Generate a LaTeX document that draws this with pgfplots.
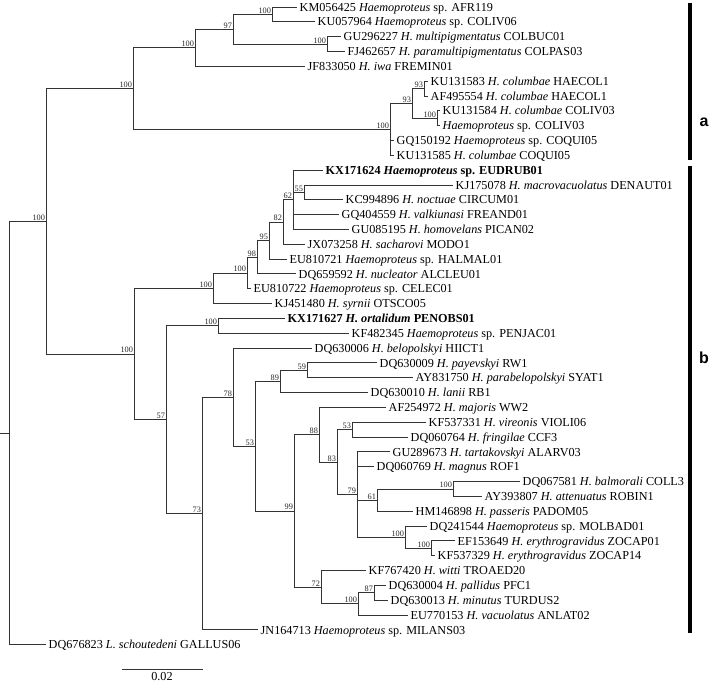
\documentclass[border=0pt]{standalone}
\usepackage{pgfplots}
\pgfplotsset{compat=1.18}
\usepackage{fontspec}
\setmainfont{Liberation Serif}
\newfontfamily\sansb{Liberation Sans}
\tikzset{
  br/.style={draw=black!80,line width=1pt,no markers},
  lf/.style={anchor=base west,font=\fontsize{12.2}{13}\selectfont,inner sep=0pt,xshift=2.5pt,yshift=-4.1pt},
  bs/.style={anchor=south east,font=\fontsize{8.3}{9}\selectfont,inner sep=0.8pt,text=black!85},
}
\begin{document}
\begin{tikzpicture}
\begin{axis}[width=709pt,height=683pt,scale only axis,xmin=0,xmax=709,ymin=0,ymax=683,
  y dir=reverse,hide axis,clip=false]
% ---- clade a ----
\addplot[br] coordinates {(297,7.0) (272,7.0) (272,21.8) (315,21.8)};
\addplot[br] coordinates {(341,36.7) (327,36.7) (327,51.5) (345,51.5)};
\addplot[br] coordinates {(272,14.4) (233,14.4) (233,44.1) (327,44.1)};
\addplot[br] coordinates {(233,29.25) (195,29.25) (195,66.3) (305,66.3)};
\addplot[br] coordinates {(428,81.2) (424,81.2) (424,96.0) (428,96.0)};
\addplot[br] coordinates {(440,110.8) (437,110.8) (437,125.6) (440,125.6)};
\addplot[br] coordinates {(424,88.6) (412,88.6) (412,118.2) (437,118.2)};
\addplot[br] coordinates {(412,103.4) (390,103.4) (390,155.3) (394,155.3)};
\addplot[br] coordinates {(390,140.5) (394,140.5)};
\addplot[br] coordinates {(195,47.8) (133,47.8) (133,129.35) (390,129.35)};
% ---- clade b ----
\addplot[br] coordinates {(453,185.0) (304,185.0) (304,199.8) (343,199.8)};
\addplot[br] coordinates {(323,170.1) (293,170.1) (293,229.5) (349,229.5)};
\addplot[br] coordinates {(293,192.4) (304,192.4)};
\addplot[br] coordinates {(293,214.6) (339,214.6)};
\addplot[br] coordinates {(293,199.8) (283,199.8) (283,244.3) (305,244.3)};
\addplot[br] coordinates {(283,222.05) (269,222.05) (269,259.1) (287,259.1)};
\addplot[br] coordinates {(269,240.6) (257,240.6) (257,273.9) (296,273.9)};
\addplot[br] coordinates {(257,257.25) (247,257.25) (247,288.8) (251,288.8)};
\addplot[br] coordinates {(247,273.0) (213,273.0) (213,303.6) (272,303.6)};
\addplot[br] coordinates {(285,318.4) (218,318.4) (218,333.3) (349,333.3)};
\addplot[br] coordinates {(377,362.9) (307,362.9) (307,377.8) (413,377.8)};
\addplot[br] coordinates {(307,370.35) (280,370.35) (280,392.6) (368,392.6)};
\addplot[br] coordinates {(426,422.2) (352,422.2) (352,437.1) (408,437.1)};
\addplot[br] coordinates {(520,481.6) (453,481.6) (453,496.4) (482,496.4)};
\addplot[br] coordinates {(453,489.0) (377,489.0) (377,511.2) (413,511.2)};
\addplot[br] coordinates {(455,540.9) (431,540.9) (431,555.7) (435,555.7)};
\addplot[br] coordinates {(427,526.1) (405,526.1) (405,548.3) (431,548.3)};
\addplot[br] coordinates {(390,451.9) (357,451.9) (357,537.2) (405,537.2)};
\addplot[br] coordinates {(357,466.7) (374,466.7)};
\addplot[br] coordinates {(357,500.1) (377,500.1)};
\addplot[br] coordinates {(352,429.65) (337,429.65) (337,494.55) (357,494.55)};
\addplot[br] coordinates {(386,407.4) (319,407.4) (319,462.1) (337,462.1)};
\addplot[br] coordinates {(386,585.4) (374,585.4) (374,600.2) (388,600.2)};
\addplot[br] coordinates {(374,592.8) (358,592.8) (358,615.0) (408,615.0)};
\addplot[br] coordinates {(366,570.5) (321,570.5) (321,603.9) (358,603.9)};
\addplot[br] coordinates {(319,434.75) (294,434.75) (294,587.2) (321,587.2)};
\addplot[br] coordinates {(280,381.5) (255,381.5) (255,511.0) (294,511.0)};
\addplot[br] coordinates {(312,348.1) (233,348.1) (233,446.25) (255,446.25)};
\addplot[br] coordinates {(233,397.2) (202,397.2) (202,629.9) (258,629.9)};
\addplot[br] coordinates {(218,325.85) (166,325.85) (166,513.55) (202,513.55)};
\addplot[br] coordinates {(213,288.3) (134,288.3) (134,419.7) (166,419.7)};
% ---- deep nodes ----
\addplot[br] coordinates {(133,88.6) (46,88.6) (46,354.0) (134,354.0)};
\addplot[br] coordinates {(46,221.3) (9,221.3) (9,644.7) (46,644.7)};
\addplot[br] coordinates {(0,433) (9,433)};
% scale bar
\addplot[br] coordinates {(122,669) (203,669)};
% group bars
\addplot[black,line width=4pt,no markers] coordinates {(690,3) (690,160)};
\addplot[black,line width=4pt,no markers] coordinates {(690,166) (690,633)};
% ---- bootstrap values ----
\node[bs] at (axis cs:272,14.4) {100};
\node[bs] at (axis cs:327,44.1) {100};
\node[bs] at (axis cs:233,29.25) {97};
\node[bs] at (axis cs:195,47.8) {100};
\node[bs] at (axis cs:424,88.6) {93};
\node[bs] at (axis cs:437,118.2) {100};
\node[bs] at (axis cs:412,103.4) {93};
\node[bs] at (axis cs:390,129.35) {100};
\node[bs] at (axis cs:133,88.6) {100};
\node[bs] at (axis cs:46,221.3) {100};
\node[bs] at (axis cs:304,192.4) {55};
\node[bs] at (axis cs:293,199.8) {62};
\node[bs] at (axis cs:283,222.05) {82};
\node[bs] at (axis cs:269,240.6) {95};
\node[bs] at (axis cs:257,257.25) {98};
\node[bs] at (axis cs:247,273.0) {100};
\node[bs] at (axis cs:213,288.3) {100};
\node[bs] at (axis cs:218,325.85) {100};
\node[bs] at (axis cs:307,370.35) {59};
\node[bs] at (axis cs:280,381.5) {89};
\node[bs] at (axis cs:352,429.65) {53};
\node[bs] at (axis cs:453,489.0) {100};
\node[bs] at (axis cs:377,500.1) {61};
\node[bs] at (axis cs:431,548.3) {100};
\node[bs] at (axis cs:405,537.2) {100};
\node[bs] at (axis cs:357,494.55) {79};
\node[bs] at (axis cs:337,462.1) {83};
\node[bs] at (axis cs:319,434.75) {88};
\node[bs] at (axis cs:374,592.8) {87};
\node[bs] at (axis cs:358,603.9) {100};
\node[bs] at (axis cs:321,587.2) {72};
\node[bs] at (axis cs:294,511.0) {99};
\node[bs] at (axis cs:255,446.25) {53};
\node[bs] at (axis cs:233,397.2) {78};
\node[bs] at (axis cs:202,513.55) {73};
\node[bs] at (axis cs:166,419.7) {57};
\node[bs] at (axis cs:134,354.0) {100};
% ---- leaf labels ----
\node[lf] at (axis cs:297,7.0) {KM056425 \textit{Haemoproteus} sp. AFR119};
\node[lf] at (axis cs:315,21.8) {KU057964 \textit{Haemoproteus} sp. COLIV06};
\node[lf] at (axis cs:341,36.7) {GU296227 \textit{H. multipigmentatus} COLBUC01};
\node[lf] at (axis cs:345,51.5) {FJ462657 \textit{H. paramultipigmentatus} COLPAS03};
\node[lf] at (axis cs:305,66.3) {JF833050 \textit{H. iwa} FREMIN01};
\node[lf] at (axis cs:428,81.2) {KU131583 \textit{H. columbae} HAECOL1};
\node[lf] at (axis cs:428,96.0) {AF495554 \textit{H. columbae} HAECOL1};
\node[lf] at (axis cs:440,110.8) {KU131584 \textit{H. columbae} COLIV03};
\node[lf] at (axis cs:440,125.6) {\textit{Haemoproteus} sp. COLIV03};
\node[lf] at (axis cs:394,140.5) {GQ150192 \textit{Haemoproteus} sp. COQUI05};
\node[lf] at (axis cs:394,155.3) {KU131585 \textit{H. columbae} COQUI05};
\node[lf] at (axis cs:323,170.1) {\textbf{KX171624 \textit{Haemoproteus} sp. EUDRUB01}};
\node[lf] at (axis cs:453,185.0) {KJ175078 \textit{H. macrovacuolatus} DENAUT01};
\node[lf] at (axis cs:343,199.8) {KC994896 \textit{H. noctuae} CIRCUM01};
\node[lf] at (axis cs:339,214.6) {GQ404559 \textit{H. valkiunasi} FREAND01};
\node[lf] at (axis cs:349,229.5) {GU085195 \textit{H. homovelans} PICAN02};
\node[lf] at (axis cs:305,244.3) {JX073258 \textit{H. sacharovi} MODO1};
\node[lf] at (axis cs:287,259.1) {EU810721 \textit{Haemoproteus} sp. HALMAL01};
\node[lf] at (axis cs:296,273.9) {DQ659592 \textit{H. nucleator} ALCLEU01};
\node[lf] at (axis cs:251,288.8) {EU810722 \textit{Haemoproteus} sp. CELEC01};
\node[lf] at (axis cs:272,303.6) {KJ451480 \textit{H. syrnii} OTSCO05};
\node[lf] at (axis cs:285,318.4) {\textbf{KX171627 \textit{H. ortalidum} PENOBS01}};
\node[lf] at (axis cs:349,333.3) {KF482345 \textit{Haemoproteus} sp. PENJAC01};
\node[lf] at (axis cs:312,348.1) {DQ630006 \textit{H. belopolskyi} HIICT1};
\node[lf] at (axis cs:377,362.9) {DQ630009 \textit{H. payevskyi} RW1};
\node[lf] at (axis cs:413,377.8) {AY831750 \textit{H. parabelopolskyi} SYAT1};
\node[lf] at (axis cs:368,392.6) {DQ630010 \textit{H. lanii} RB1};
\node[lf] at (axis cs:386,407.4) {AF254972 \textit{H. majoris} WW2};
\node[lf] at (axis cs:426,422.2) {KF537331 \textit{H. vireonis} VIOLI06};
\node[lf] at (axis cs:408,437.1) {DQ060764 \textit{H. fringilae} CCF3};
\node[lf] at (axis cs:390,451.9) {GU289673 \textit{H. tartakovskyi} ALARV03};
\node[lf] at (axis cs:374,466.7) {DQ060769 \textit{H. magnus} ROF1};
\node[lf] at (axis cs:520,481.6) {DQ067581 \textit{H. balmorali} COLL3};
\node[lf] at (axis cs:482,496.4) {AY393807 \textit{H. attenuatus} ROBIN1};
\node[lf] at (axis cs:413,511.2) {HM146898 \textit{H. passeris} PADOM05};
\node[lf] at (axis cs:427,526.1) {DQ241544 \textit{Haemoproteus} sp. MOLBAD01};
\node[lf] at (axis cs:455,540.9) {EF153649 \textit{H. erythrogravidus} ZOCAP01};
\node[lf] at (axis cs:435,555.7) {KF537329 \textit{H. erythrogravidus} ZOCAP14};
\node[lf] at (axis cs:366,570.5) {KF767420 \textit{H. witti} TROAED20};
\node[lf] at (axis cs:386,585.4) {DQ630004 \textit{H. pallidus} PFC1};
\node[lf] at (axis cs:388,600.2) {DQ630013 \textit{H. minutus} TURDUS2};
\node[lf] at (axis cs:408,615.0) {EU770153 \textit{H. vacuolatus} ANLAT02};
\node[lf] at (axis cs:258,629.9) {JN164713 \textit{Haemoproteus} sp. MILANS03};
\node[lf] at (axis cs:46,644.7) {DQ676823 \textit{L. schoutedeni} GALLUS06};
% scale label and group letters
\node[font=\fontsize{12.2}{13}\selectfont,anchor=center,inner sep=0pt] at (axis cs:162,677) {0.02};
\node[font=\sansb\bfseries\fontsize{16}{18}\selectfont,inner sep=0pt] at (axis cs:704,122) {a};
\node[font=\sansb\bfseries\fontsize{16}{18}\selectfont,inner sep=0pt] at (axis cs:704,358) {b};
\end{axis}
\pgfresetboundingbox
\path (current axis.south west) rectangle (current axis.north east);
\end{tikzpicture}
\end{document}
